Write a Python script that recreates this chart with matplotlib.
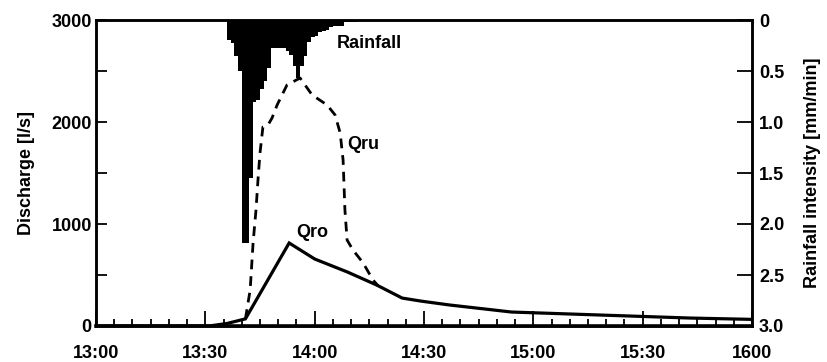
import matplotlib
matplotlib.use("Agg")
import matplotlib.pyplot as plt
from matplotlib.ticker import MultipleLocator, FixedLocator

plt.rcParams['font.family'] = ['Liberation Sans', 'DejaVu Sans']

# ---- data (minutes after 13:00) ----
qro_t = [0, 20, 31, 36, 41, 53, 60, 69, 77, 84, 89, 97, 114, 138, 163, 180]
qro_q = [0, 0, 0, 25, 70, 814, 657, 529, 402, 274, 245, 206, 137, 108, 78, 65]

qru_t = [41, 42.3, 43.1, 43.9, 44.5, 45.0, 45.8, 47.2, 48.3, 49.7, 52.4, 56.0,
         59.3, 63.4, 65.6, 67.0, 67.8, 68.3, 68.9, 70.5, 73.3, 76.0, 77.5]
qru_q = [70, 353, 814, 1137, 1461, 1696, 1951, 1971, 2039, 2167, 2363, 2431,
         2265, 2167, 2069, 1892, 1627, 1137, 843, 745, 618, 451, 390]

rain_t = [36, 37, 38, 39, 40, 41, 42, 43, 44, 45, 46, 47, 48, 49, 50, 51, 52,
          53, 54, 55, 56, 57, 58, 59, 60, 61, 62, 63, 64, 65, 66, 67, 68, 69,
          70, 71]
rain_i = [0.20, 0.23, 0.35, 0.50, 2.19, 2.19, 1.55, 0.80, 0.78, 0.68, 0.60,
          0.47, 0.27, 0.27, 0.27, 0.27, 0.30, 0.34, 0.45, 0.57, 0.45, 0.35,
          0.22, 0.17, 0.16, 0.12, 0.11, 0.10, 0.07, 0.06, 0.06, 0.06, 0.02,
          0.02, 0.02, 0.02]

xtick_pos = [0, 30, 60, 90, 120, 150, 180]
xtick_lab = ['13:00', '13:30', '14:00', '14:30', '15:00', '15:30', '1600']
ytick_pos = [0, 1000, 2000, 3000]
rtick_pos = [0, 0.5, 1.0, 1.5, 2.0, 2.5, 3.0]
rtick_lab = ['0', '0.5', '1.0', '1.5', '2.0', '2.5', '3.0']

# ---- figure ----
fig = plt.figure(figsize=(8.27, 3.62), dpi=100)
ax = fig.add_axes([96/827, 1-326/362, (752-96)/827, (326-20)/362])
ax2 = ax.twinx()

fs = 13
ax.plot(qro_t, qro_q, color='black', lw=2.3, solid_joinstyle='miter', zorder=3)
ax.plot(qru_t, qru_q, color='black', lw=2.0, dashes=(3.5, 2.5), zorder=3)

ax2.bar(rain_t, rain_i, width=1.0, align='edge', color='black', linewidth=0)
ax2.set_ylim(3.0, 0)

ax.set_xlim(0, 180)
ax.set_ylim(0, 3000)

for s in ax.spines.values():
    s.set_linewidth(1.8)
ax.spines['bottom'].set_linewidth(2.6)
for s in ax2.spines.values():
    s.set_linewidth(1.8)

ax.xaxis.set_major_locator(FixedLocator(xtick_pos))
ax.set_xticklabels(xtick_lab, fontsize=fs, fontweight='bold')
ax.xaxis.set_minor_locator(MultipleLocator(5))
ax.tick_params(axis='x', which='major', direction='in', length=11, width=1.3,
               pad=14, top=False)
ax.tick_params(axis='x', which='minor', direction='in', length=5, width=1.3,
               top=False)

ax.yaxis.set_major_locator(FixedLocator(ytick_pos))
ax.set_yticklabels([str(v) for v in ytick_pos], fontsize=fs, fontweight='bold')
ax.yaxis.set_minor_locator(MultipleLocator(500))
ax.tick_params(axis='y', which='both', direction='in', length=8, width=1.3, pad=3)

ax2.yaxis.set_major_locator(FixedLocator(rtick_pos))
ax2.set_yticklabels(rtick_lab, fontsize=fs, fontweight='bold')
ax2.tick_params(axis='y', which='major', direction='in', length=11, width=1.3, pad=5)

ax.set_ylabel('Discharge [l/s]', fontsize=fs, fontweight='bold', labelpad=12)
ax2.set_ylabel('Rainfall intensity [mm/min]', fontsize=fs, fontweight='bold',
               labelpad=14)

ax.text(66, 2770, 'Rainfall', fontsize=fs, fontweight='bold', va='center', ha='left')
ax.text(69, 1780, 'Qru', fontsize=fs, fontweight='bold', va='center', ha='left')
ax.text(55, 920, 'Qro', fontsize=fs, fontweight='bold', va='center', ha='left')

fig.savefig('out.png', dpi=100)
